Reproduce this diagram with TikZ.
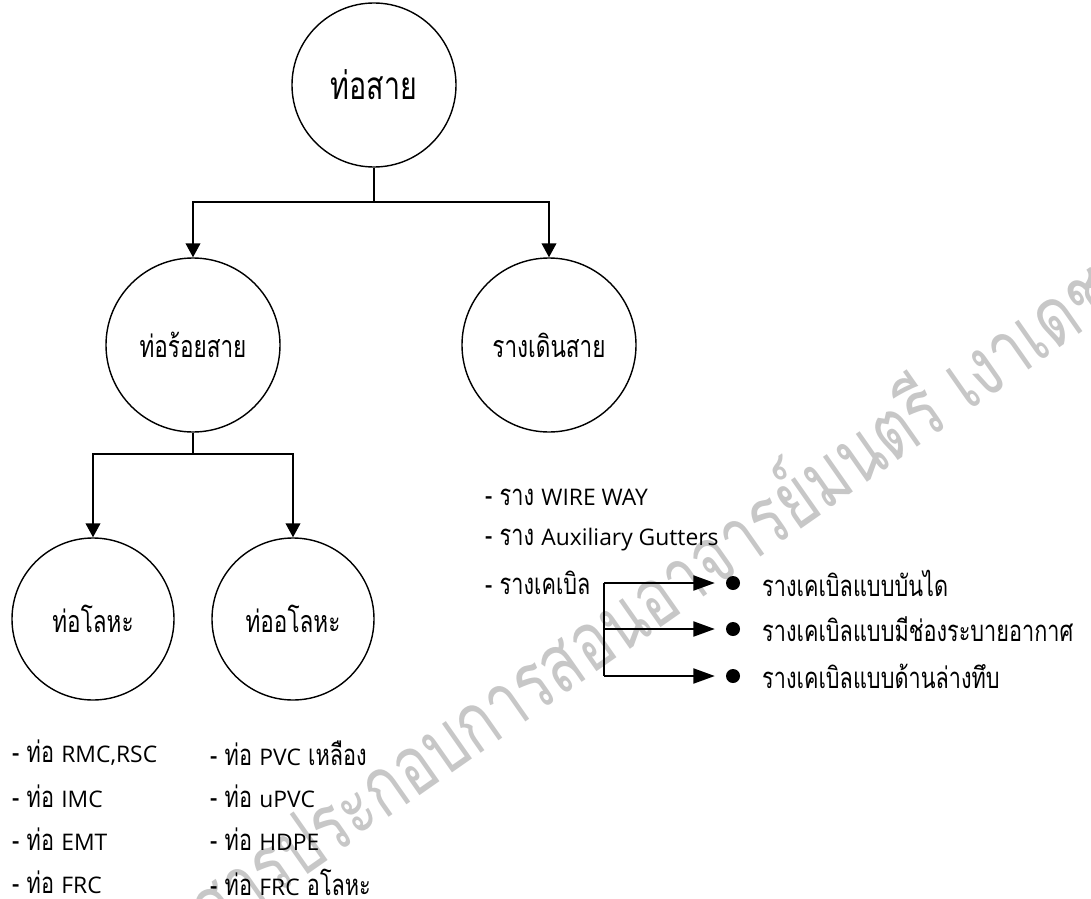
\documentclass[tikz,border=0pt]{standalone}
\usepackage{fontspec}
\setmainfont[Script=Thai, FakeStretch=0.74]{Loma}
\newfontfamily\latinfont{Open Sans}
\newcommand{\en}[1]{{\latinfont\fontsize{19.5}{22}\selectfont #1}}
\usetikzlibrary{arrows.meta,shapes.geometric}

\tikzset{
  bubble/.style={draw, circle, line width=1.2pt, inner sep=0pt,
                 font=\fontsize{26}{30}\selectfont},
  item/.style={anchor=west, inner sep=0pt, font=\fontsize{25}{30}\selectfont},
  link/.style={line width=1.6pt},
  arr/.style={link, -{Triangle[length=0.42cm, width=0.44cm]}},
  arrlong/.style={link, -{Triangle[length=0.64cm, width=0.45cm]}},
  dot/.style={circle, fill, inner sep=0pt, minimum size=0.42cm},
  watermark/.style={text=black!22, font=\fontsize{70}{70}\selectfont,
                    rotate=35, inner sep=0pt}
}

\begin{document}
\begin{tikzpicture}[x=0.03cm, y=-0.03cm]
\useasboundingbox (0,0) rectangle (1091,899);
\clip (0,0) rectangle (1091,899);

% diagonal background stamp
\node[watermark, anchor=east] (wm) at (1100,276)
  {เอกสารประกอบการสอนอาจารย์มนตรี เงาเดช};

% main hierarchy
\node[bubble, minimum size=4.92cm,
      font=\fontsize{33}{38}\selectfont] (root) at (374,85) {ท่อสาย};
\node[bubble, minimum size=5.22cm] (pipe) at (193,345) {ท่อร้อยสาย};
\node[bubble, minimum size=5.22cm] (tray) at (549,345) {รางเดินสาย};
\node[bubble, minimum size=4.86cm] (metal) at (93,619) {ท่อโลหะ};
\node[bubble, minimum size=4.86cm] (nonmetal) at (293,619) {ท่ออโลหะ};

\coordinate (j1) at (374,202);
\draw[link] (root.south) -- (j1);
\draw[arr] (j1) -| (pipe.north);
\draw[arr] (j1) -| (tray.north);

\coordinate (j2) at (193,454);
\draw[link] (pipe.south) -- (j2);
\draw[arr] (j2) -| (metal.north);
\draw[arr] (j2) -| (nonmetal.north);

% conduit lists
\node[item] (m1) at (12,753) {- ท่อ \en{RMC,RSC}};
\node[item] (m2) at (12,796) {- ท่อ \en{IMC}};
\node[item] (m3) at (12,839) {- ท่อ \en{EMT}};
\node[item] (m4) at (12,882) {- ท่อ \en{FRC}};

\node[item] (n1) at (210,753) {- ท่อ \en{PVC} เหลือง};
\node[item] (n2) at (210,796) {- ท่อ \en{uPVC}};
\node[item] (n3) at (210,839) {- ท่อ \en{HDPE}};
\node[item] (n4) at (210,882) {- ท่อ \en{FRC} อโลหะ};

% raceway list
\node[item] (r1) at (485,497) {- ราง \en{WIRE WAY}};
\node[item] (r2) at (485,540) {- ราง \en{Auxiliary Gutters}};
\node[item] (r3) at (485,583) {- รางเคเบิล};

% cable tray kinds
\node[dot] (d1) at (733,583) {};
\node[dot] (d2) at (733,629) {};
\node[dot] (d3) at (733,676) {};
\node[item] (k1) at (762,583) {รางเคเบิลแบบบันได};
\node[item] (k2) at (762,629) {รางเคเบิลแบบมีช่องระบายอากาศ};
\node[item] (k3) at (762,676) {รางเคเบิลแบบด้านล่างทึบ};

\coordinate (c1) at (604,583);
\coordinate (c2) at (604,629);
\coordinate (c3) at (604,676);
\draw[link] (c1) -- (c3);
\draw[arrlong, shorten >=0.33cm] (c1) -- (d1.west);
\draw[arrlong, shorten >=0.33cm] (c2) -- (d2.west);
\draw[arrlong, shorten >=0.33cm] (c3) -- (d3.west);
\end{tikzpicture}
\end{document}
